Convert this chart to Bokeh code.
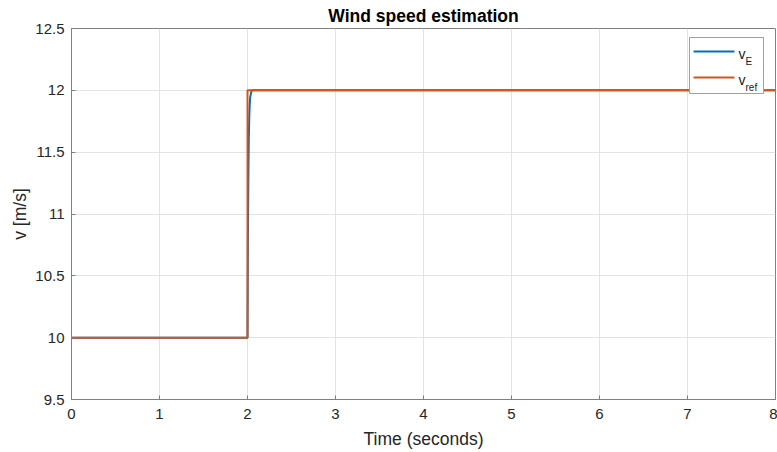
from bokeh.plotting import figure
from bokeh.models import FixedTicker, Range1d
from bokeh.core.properties import value
from bokeh.embed import file_html
from bokeh.resources import INLINE

# Estimated wind speed v_E (fast first-order response to the step)
t_est = [0.0, 2.0, 2.005, 2.01, 2.015, 2.02, 2.025, 2.03, 2.04, 2.05, 8.0]
v_est = [10.0, 10.0, 10.8, 11.3, 11.6, 11.78, 11.88, 11.94, 11.98, 12.0, 12.0]

# Reference wind speed v_ref (step from 10 to 12 m/s at t = 2 s)
t_ref = [0.0, 2.0, 2.0, 8.0]
v_ref = [10.0, 10.0, 12.0, 12.0]

x_ticks = [0, 1, 2, 3, 4, 5, 6, 7, 8]
y_ticks = [9.5, 10.0, 10.5, 11.0, 11.5, 12.0, 12.5]
y_tick_labels = ["9.5", "10", "10.5", "11", "11.5", "12", "12.5"]

series_names = ["v", "v"]
series_subs = ["E", "ref"]
series_colors = ["#0072BD", "#D95319"]

FONT = "Liberation Sans"
TEXT = "#262626"
AXIS = "#808080"

W, H = 777, 452
LEFT, RIGHT, TOP, BOTTOM = 71, 2, 28, 53
X0, X1, Y0, Y1 = 0.0, 8.0, 9.5, 12.5

p = figure(
    width=W, height=H,
    output_backend="svg", toolbar_location=None,
    x_range=Range1d(X0, X1), y_range=Range1d(Y0, Y1),
    min_border_left=LEFT, min_border_right=RIGHT,
    min_border_top=TOP, min_border_bottom=BOTTOM,
    title="Wind speed estimation",
)
p.background_fill_color = "white"
p.border_fill_color = "white"
p.outline_line_color = AXIS
p.outline_line_width = 1

p.title.align = "center"
p.title.text_font = FONT
p.title.text_font_size = "17.5px"
p.title.text_font_style = "bold"
p.title.text_color = "#000000"
p.title.standoff = 6

for ax in (p.xaxis[0], p.yaxis[0]):
    ax.axis_line_color = AXIS
    ax.major_tick_line_color = AXIS
    ax.minor_tick_line_color = None
    ax.major_tick_in = 4
    ax.major_tick_out = 0
    ax.major_label_text_font = FONT
    ax.major_label_text_font_size = "15px"
    ax.major_label_text_color = TEXT
    ax.axis_label_text_font = FONT
    ax.axis_label_text_font_size = "17.5px"
    ax.axis_label_text_font_style = "normal"
    ax.axis_label_text_color = TEXT

p.xaxis.ticker = FixedTicker(ticks=x_ticks)
p.yaxis.ticker = FixedTicker(ticks=y_ticks)
p.yaxis.major_label_overrides = dict(zip(y_ticks, y_tick_labels))
p.xaxis.axis_label = "Time (seconds)"
p.yaxis.axis_label = "v [m/s]"
p.xaxis.major_label_standoff = 9
p.yaxis.major_label_standoff = 7
p.xaxis.axis_label_standoff = 7
p.yaxis.axis_label_standoff = 2

p.grid.grid_line_color = "#e3e3e3"
p.grid.grid_line_width = 1

p.line(t_est, v_est, line_color=series_colors[0], line_width=2)
p.line(t_ref, v_ref, line_color=series_colors[1], line_width=2)


# --- legend box drawn by hand so the labels can carry subscripts ---
FW = W - LEFT - RIGHT
FH = H - TOP - BOTTOM


def px_x(px):
    """canvas pixel column -> data x"""
    return X0 + (px - LEFT) * (X1 - X0) / FW


def px_y(py):
    """canvas pixel row -> data y"""
    return Y1 - (py - TOP) * (Y1 - Y0) / FH


p.quad(left=[px_x(689)], right=[px_x(763)], top=[px_y(37)], bottom=[px_y(93)],
       fill_color="white", line_color="#a0a0a0", line_width=1)

rows = [51, 77]          # pixel rows of the legend entries
for row, name, sub, color in zip(rows, series_names, series_subs, series_colors):
    p.segment(x0=[px_x(693)], y0=[px_y(row)], x1=[px_x(734)], y1=[px_y(row)],
              line_color=color, line_width=2)
    p.text(x=[px_x(738)], y=[px_y(row + 2.5)], text=[name],
           text_font=value(FONT), text_font_size="14px", text_color="#1a1a1a",
           text_baseline="alphabetic", text_align="left")
    p.text(x=[px_x(745)], y=[px_y(row + 9.5)], text=[sub],
           text_font=value(FONT), text_font_size="10px", text_color="#1a1a1a",
           text_baseline="alphabetic", text_align="left")

open("out.html", "w").write(file_html(p, INLINE))
